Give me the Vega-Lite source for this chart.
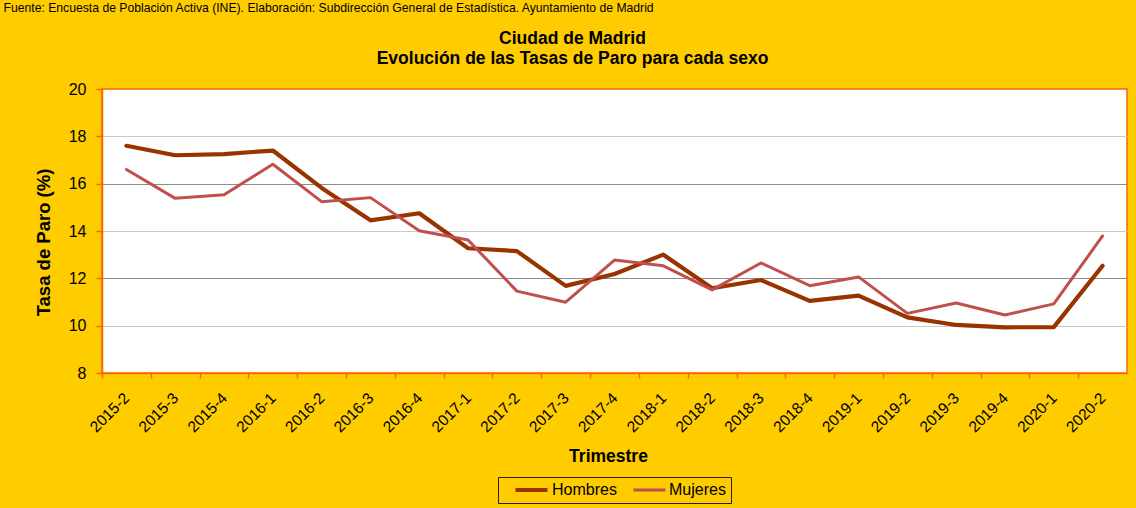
{
  "$schema": "https://vega.github.io/schema/vega-lite/v6.json",
  "width": 1025,
  "height": 284,
  "autosize": {"type": "none"},
  "padding": {"left": 102, "top": 89, "right": 9, "bottom": 135},
  "background": "#FFCC00",
  "config": {
    "font": "Liberation Sans",
    "view": {"fill": "white", "stroke": "#FF6600", "strokeWidth": 1.5}
  },
  "data": {
    "values": [
      {"Trimestre": "2015-2", "Sexo": "Hombres", "Tasa": 17.6},
      {"Trimestre": "2015-3", "Sexo": "Hombres", "Tasa": 17.2},
      {"Trimestre": "2015-4", "Sexo": "Hombres", "Tasa": 17.25},
      {"Trimestre": "2016-1", "Sexo": "Hombres", "Tasa": 17.4},
      {"Trimestre": "2016-2", "Sexo": "Hombres", "Tasa": 15.82},
      {"Trimestre": "2016-3", "Sexo": "Hombres", "Tasa": 14.45},
      {"Trimestre": "2016-4", "Sexo": "Hombres", "Tasa": 14.75},
      {"Trimestre": "2017-1", "Sexo": "Hombres", "Tasa": 13.27},
      {"Trimestre": "2017-2", "Sexo": "Hombres", "Tasa": 13.15},
      {"Trimestre": "2017-3", "Sexo": "Hombres", "Tasa": 11.68},
      {"Trimestre": "2017-4", "Sexo": "Hombres", "Tasa": 12.18},
      {"Trimestre": "2018-1", "Sexo": "Hombres", "Tasa": 13.0},
      {"Trimestre": "2018-2", "Sexo": "Hombres", "Tasa": 11.58},
      {"Trimestre": "2018-3", "Sexo": "Hombres", "Tasa": 11.93},
      {"Trimestre": "2018-4", "Sexo": "Hombres", "Tasa": 11.05},
      {"Trimestre": "2019-1", "Sexo": "Hombres", "Tasa": 11.27},
      {"Trimestre": "2019-2", "Sexo": "Hombres", "Tasa": 10.35},
      {"Trimestre": "2019-3", "Sexo": "Hombres", "Tasa": 10.03},
      {"Trimestre": "2019-4", "Sexo": "Hombres", "Tasa": 9.93},
      {"Trimestre": "2020-1", "Sexo": "Hombres", "Tasa": 9.94},
      {"Trimestre": "2020-2", "Sexo": "Hombres", "Tasa": 12.53},
      {"Trimestre": "2015-2", "Sexo": "Mujeres", "Tasa": 16.6},
      {"Trimestre": "2015-3", "Sexo": "Mujeres", "Tasa": 15.38},
      {"Trimestre": "2015-4", "Sexo": "Mujeres", "Tasa": 15.53},
      {"Trimestre": "2016-1", "Sexo": "Mujeres", "Tasa": 16.82},
      {"Trimestre": "2016-2", "Sexo": "Mujeres", "Tasa": 15.24},
      {"Trimestre": "2016-3", "Sexo": "Mujeres", "Tasa": 15.41},
      {"Trimestre": "2016-4", "Sexo": "Mujeres", "Tasa": 14.01},
      {"Trimestre": "2017-1", "Sexo": "Mujeres", "Tasa": 13.62},
      {"Trimestre": "2017-2", "Sexo": "Mujeres", "Tasa": 11.46},
      {"Trimestre": "2017-3", "Sexo": "Mujeres", "Tasa": 10.99},
      {"Trimestre": "2017-4", "Sexo": "Mujeres", "Tasa": 12.77},
      {"Trimestre": "2018-1", "Sexo": "Mujeres", "Tasa": 12.53},
      {"Trimestre": "2018-2", "Sexo": "Mujeres", "Tasa": 11.51},
      {"Trimestre": "2018-3", "Sexo": "Mujeres", "Tasa": 12.65},
      {"Trimestre": "2018-4", "Sexo": "Mujeres", "Tasa": 11.69},
      {"Trimestre": "2019-1", "Sexo": "Mujeres", "Tasa": 12.06},
      {"Trimestre": "2019-2", "Sexo": "Mujeres", "Tasa": 10.52},
      {"Trimestre": "2019-3", "Sexo": "Mujeres", "Tasa": 10.96},
      {"Trimestre": "2019-4", "Sexo": "Mujeres", "Tasa": 10.45},
      {"Trimestre": "2020-1", "Sexo": "Mujeres", "Tasa": 10.92},
      {"Trimestre": "2020-2", "Sexo": "Mujeres", "Tasa": 13.79}
    ]
  },
  "layer": [
    {
      "mark": {"type": "line", "strokeJoin": "round", "strokeCap": "round"},
      "encoding": {
        "x": {
          "field": "Trimestre",
          "type": "ordinal",
          "sort": null,
          "scale": {"type": "point", "padding": 0.5},
          "axis": {
            "title": "Trimestre",
            "titleFontSize": 17.5,
            "titleFontWeight": "bold",
            "titleColor": "black",
            "titleX": 506,
            "titleY": 88,
            "titleBaseline": "alphabetic",
            "titleAlign": "center",
            "labelAngle": -45,
            "labelAlign": "right",
            "labelBaseline": "middle",
            "labelFontSize": 15.5,
            "labelColor": "black",
            "labelPadding": 17,
            "labelOffset": 24.4,
            "tickOffset": -24.4,
            "tickColor": "#FF6600",
            "tickSize": 5,
            "tickWidth": 1.5,
            "domainColor": "#FF6600",
            "domainWidth": 1.5,
            "grid": false,
            "labelOverlap": false
          }
        },
        "y": {
          "field": "Tasa",
          "type": "quantitative",
          "scale": {"domain": [8, 20]},
          "axis": {
            "title": "Tasa de Paro (%)",
            "values": [8, 10, 12, 14, 16, 18, 20],
            "titleX": -53,
            "titleY": 153,
            "titleAngle": -90,
            "titleBaseline": "alphabetic",
            "titleAlign": "center",
            "titleFontSize": 18.5,
            "titleFontWeight": "bold",
            "titleColor": "black",
            "labelFontSize": 16,
            "labelColor": "black",
            "labelPadding": 10,
            "tickSize": 6,
            "tickWidth": 1.5,
            "tickColor": "#FF6600",
            "domainColor": "#FF6600",
            "domainWidth": 1.5,
            "grid": true,
            "gridWidth": 1.2,
            "gridColor": {
              "condition": [
                {"test": "datum.value === 8 || datum.value === 20", "value": "transparent"},
                {"test": "datum.value % 4 === 0", "value": "#8c8c8c"}
              ],
              "value": "#c8c8c8"
            }
          }
        },
        "color": {
          "field": "Sexo",
          "type": "nominal",
          "scale": {"domain": ["Hombres", "Mujeres"], "range": ["#993300", "#C0504D"]},
          "legend": {
            "title": " ",
            "titleOrient": "left",
            "titlePadding": 10,
            "titleFontSize": 16,
            "orient": "none",
            "legendX": 396,
            "legendY": 388,
            "direction": "horizontal",
            "symbolType": "stroke",
            "symbolSize": 1024,
            "clipHeight": 16,
            "labelFontSize": 16,
            "labelColor": "black",
            "labelOffset": 2,
            "columnPadding": 15,
            "padding": 5,
            "strokeColor": "#222222"
          }
        },
        "strokeWidth": {
          "field": "Sexo",
          "type": "nominal",
          "scale": {"domain": ["Hombres", "Mujeres"], "range": [4.2, 3]},
          "legend": {
            "title": " ",
            "titleOrient": "left",
            "titlePadding": 10,
            "titleFontSize": 16,
            "orient": "none",
            "legendX": 396,
            "legendY": 388,
            "direction": "horizontal",
            "symbolType": "stroke",
            "symbolSize": 1024,
            "clipHeight": 16,
            "labelFontSize": 16,
            "labelColor": "black",
            "labelOffset": 2,
            "columnPadding": 15,
            "padding": 5,
            "strokeColor": "#222222"
          }
        }
      }
    },
    {
      "mark": {"type": "point", "opacity": 0},
      "encoding": {
        "x": {
          "field": "Trimestre",
          "type": "ordinal",
          "sort": null,
          "axis": {
            "orient": "top",
            "title": ["Ciudad de Madrid", "Evolución de las Tasas de Paro para cada sexo"],
            "labels": false,
            "ticks": false,
            "domain": false,
            "grid": false,
            "titleX": 470,
            "titleY": -46,
            "titleAlign": "center",
            "titleBaseline": "alphabetic",
            "titleLineHeight": 20,
            "titleFontSize": 17.5,
            "titleFontWeight": "bold",
            "titleColor": "black"
          }
        }
      }
    },
    {
      "mark": {"type": "point", "opacity": 0},
      "encoding": {
        "y": {
          "field": "Tasa",
          "type": "quantitative",
          "axis": {
            "orient": "right",
            "title": "Fuente: Encuesta de Población Activa (INE). Elaboración: Subdirección General de Estadística. Ayuntamiento de Madrid",
            "labels": false,
            "ticks": false,
            "domain": false,
            "grid": false,
            "titleAngle": 0,
            "titleX": -1124,
            "titleY": -78,
            "titleAlign": "left",
            "titleBaseline": "alphabetic",
            "titleFontSize": 12.2,
            "titleFontWeight": "normal",
            "titleColor": "black"
          }
        }
      }
    }
  ],
  "resolve": {"axis": {"x": "independent", "y": "independent"}}
}
